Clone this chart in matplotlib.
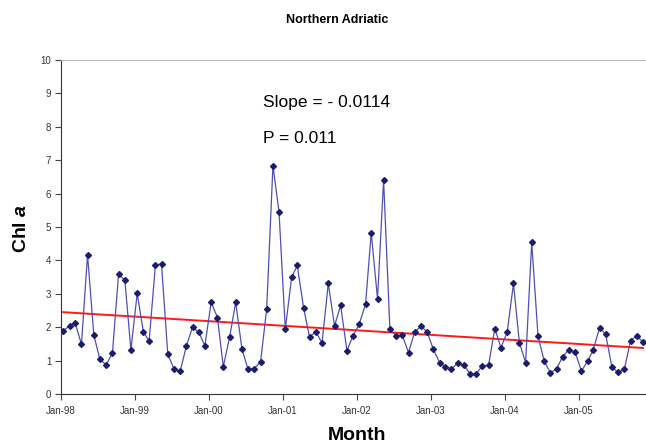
import matplotlib
matplotlib.use('Agg')
import matplotlib.pyplot as plt
import numpy as np
import pandas as pd

# Monthly Chl a, Northern Adriatic (Jan-98 .. Nov-05)
chl = [1.89, 2.04, 2.12, 1.49, 4.17, 1.76, 1.04, 0.87, 1.24, 3.58, 3.41, 1.32,
       3.01, 1.85, 1.59, 3.87, 3.89, 1.19, 0.76, 0.68, 1.44, 2.00, 1.85, 1.44,
       2.75, 2.29, 0.82, 1.70, 2.74, 1.35, 0.74, 0.76, 0.97, 2.54, 6.84, 5.44,
       1.94, 3.49, 3.85, 2.58, 1.70, 1.87, 1.52, 3.31, 2.04, 2.65, 1.30, 1.74,
       2.10, 2.69, 4.83, 2.85, 6.41, 1.95, 1.74, 1.76, 1.24, 1.85, 2.03, 1.87,
       1.35, 0.94, 0.82, 0.75, 0.92, 0.87, 0.61, 0.61, 0.84, 0.86, 1.96, 1.39,
       1.85, 3.31, 1.54, 0.94, 4.54, 1.74, 1.00, 0.63, 0.76, 1.12, 1.33, 1.26,
       0.69, 0.98, 1.33, 1.99, 1.79, 0.80, 0.65, 0.74, 1.59, 1.75, 1.55]
# mid-month dates
months = pd.date_range('1998-01-01', periods=len(chl), freq='MS') + pd.Timedelta(days=11)

# regression trend (per month)
slope = -0.0114
intercept = 2.45
p_value = 0.011
month_idx = np.arange(len(chl))
trend = intercept + slope * month_idx

year_ticks = pd.date_range('1998-01-01', '2005-01-01', freq='YS')
tick_labels = [d.strftime('Jan-%y') for d in year_ticks]

plt.rcParams['font.family'] = ['Liberation Sans', 'DejaVu Sans']
plt.rcParams['mathtext.fontset'] = 'custom'
plt.rcParams['mathtext.rm'] = 'Liberation Sans'
plt.rcParams['mathtext.it'] = 'Liberation Sans:italic'
plt.rcParams['mathtext.bf'] = 'Liberation Sans:bold'
plt.rcParams['mathtext.bfit'] = 'Liberation Sans:italic:bold'

fig = plt.figure(figsize=(6.46, 4.43), dpi=100)
ax = fig.add_axes([61 / 646, 1 - 394 / 443, 1 - 61 / 646, (394 - 60) / 443])

ax.plot(months, chl, color='#5050b0', linewidth=0.9, marker='D', markersize=3.0,
        markerfacecolor='#1c1c6c', markeredgecolor='#1c1c6c', zorder=3)
ax.plot(months, trend, color='#ff1a1a', linewidth=1.4, zorder=2)

ax.set_ylim(0, 10)
ax.set_yticks(range(0, 11))
ax.set_xlim(pd.Timestamp('1998-01-01'), pd.Timestamp('1998-01-01') + pd.Timedelta(days=2887))
ax.set_xticks(year_ticks)
ax.set_xticklabels(tick_labels)

ax.tick_params(axis='both', direction='out', length=4, width=0.8, colors='#444444',
               labelsize=7, labelcolor='#333333', pad=3)
ax.tick_params(axis='x', pad=5)

ax.spines['right'].set_visible(False)
ax.spines['top'].set_color('#b8b8b8')
ax.spines['left'].set_color('#333333')
ax.spines['bottom'].set_color('#333333')

ax.text(0.346, 0.859, 'Slope = - 0.0114', transform=ax.transAxes, fontsize=12.5,
        va='baseline', ha='left', color='black')
ax.text(0.346, 0.751, f'P = {p_value}', transform=ax.transAxes, fontsize=12.5,
        va='baseline', ha='left', color='black')

fig.text(337 / 646, 1 - 20 / 443, 'Northern Adriatic', ha='center', va='center',
         fontsize=9, fontweight='bold')
fig.text(357 / 646, 1 - 436 / 443, 'Month', ha='center', va='center',
         fontsize=14, fontweight='bold')
fig.text(22 / 646, 1 - 228 / 443, r'Chl $\boldsymbol{a}$', ha='center', va='center',
         rotation=90, fontsize=14, fontweight='bold')

fig.savefig('out.png', dpi=100)
